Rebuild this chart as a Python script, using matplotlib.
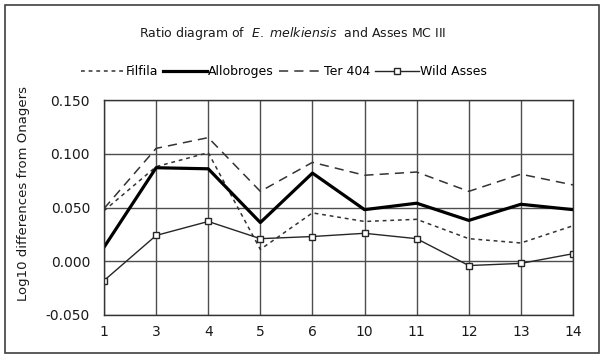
import matplotlib.pyplot as plt
from matplotlib.patches import Rectangle
from matplotlib.ticker import FormatStrFormatter

plt.rcParams["font.family"] = ["DejaVu Sans"]
plt.rcParams["axes.unicode_minus"] = False

categories = ["1", "3", "4", "5", "6", "10", "11", "12", "13", "14"]
filfila = [0.047, 0.088, 0.101, 0.011, 0.045, 0.037, 0.039, 0.021, 0.017, 0.033]
allobroges = [0.013, 0.087, 0.086, 0.036, 0.082, 0.048, 0.054, 0.038, 0.053, 0.048]
ter404 = [0.049, 0.105, 0.115, 0.065, 0.092, 0.080, 0.083, 0.065, 0.081, 0.071]
wild_asses = [-0.018, 0.024, 0.037, 0.021, 0.023, 0.026, 0.021, -0.004, -0.002, 0.007]

fig = plt.figure(figsize=(6.03, 3.56), dpi=100)
ax = fig.add_axes([104 / 603, 41 / 356, 469 / 603, 215 / 356])

x = list(range(len(categories)))
ax.plot(x, filfila, color="0.2", lw=1.1, ls=(0, (2.5, 2.5)), label="Filfila")
ax.plot(x, allobroges, color="black", lw=2.3, label="Allobroges")
ax.plot(x, ter404, color="0.2", lw=1.1, ls=(0, (6, 4)), label="Ter 404")
ax.plot(x, wild_asses, color="0.15", lw=1.0, marker="s", ms=5,
        mfc="white", mec="0.15", mew=1.0, label="Wild Asses")

ax.set_xlim(0, len(categories) - 1)
ax.set_ylim(-0.05, 0.15)
ax.set_xticks(x)
ax.set_xticklabels(categories)
ax.set_yticks([-0.05, 0.0, 0.05, 0.1, 0.15])
ax.yaxis.set_major_formatter(FormatStrFormatter("%.3f"))
ax.tick_params(length=0, labelsize=10, colors="0.1")
ax.tick_params(axis="x", pad=7)
ax.tick_params(axis="y", pad=10)
ax.grid(True, color="0.3", lw=1.0)
ax.set_axisbelow(True)
for s in ax.spines.values():
    s.set_color("0.2")
    s.set_linewidth(1.0)

ax.set_ylabel("Log10 differences from Onagers", fontsize=9.5, color="0.1")
ax.yaxis.set_label_coords(-0.158, 0.565)

fig.text(0.486, 0.905, "Ratio diagram of  $\\it{E.\\ melkiensis}$  and Asses MC III",
         ha="center", va="center", fontsize=9, color="0.1")
fig.legend(loc="center", bbox_to_anchor=(0.471, 0.798), ncol=4, frameon=False,
           fontsize=9, handlelength=3.5, handletextpad=0.1, columnspacing=0.4)

fig.patches.append(Rectangle((5 / 603, 3 / 356), 594 / 603, 348 / 356,
                             transform=fig.transFigure, fill=False,
                             ec="0.25", lw=1.2))

fig.savefig("out.png", dpi=100)
